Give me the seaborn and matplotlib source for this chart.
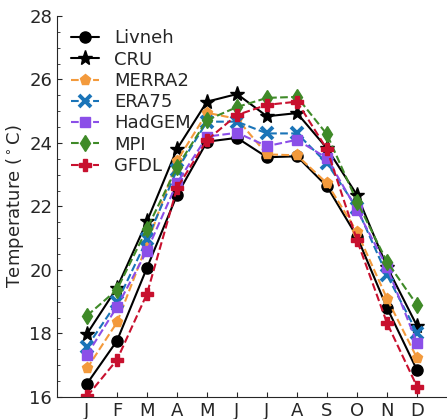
import matplotlib
matplotlib.use('Agg')
import matplotlib.pyplot as plt
import seaborn as sns
from matplotlib.ticker import MultipleLocator

# Monthly mean temperature (deg C) per dataset
months = [1, 2, 3, 4, 5, 6, 7, 8, 9, 10, 11, 12]
month_labels = ['J', 'F', 'M', 'A', 'M', 'J', 'J', 'A', 'S', 'O', 'N', 'D']

livneh = [16.42, 17.77, 20.07, 22.36, 24.04, 24.16, 23.55, 23.58, 22.63, 21.05, 18.81, 16.85]
cru = [17.99, 19.44, 21.53, 23.81, 25.30, 25.54, 24.84, 24.94, 23.83, 22.36, 20.10, 18.24]
merra2 = [16.90, 18.35, 20.80, 23.43, 24.95, 24.76, 23.64, 23.61, 22.73, 21.20, 19.10, 17.23]
era75 = [17.58, 18.98, 20.96, 23.15, 24.67, 24.67, 24.30, 24.30, 23.36, 21.95, 19.84, 18.03]
hadgem = [17.33, 18.84, 20.61, 22.74, 24.20, 24.32, 23.90, 24.10, 23.52, 21.89, 20.09, 17.70]
mpi = [18.56, 19.38, 21.30, 23.24, 24.72, 25.13, 25.42, 25.45, 24.27, 22.15, 20.26, 18.90]
gfdl = [16.02, 17.17, 19.25, 22.58, 24.09, 24.88, 25.20, 25.30, 23.80, 20.94, 18.33, 16.33]

series = [
    ('Livneh', livneh, 'black', 'o', '-', 8),
    ('CRU', cru, 'black', '*', '-', 11),
    ('MERRA2', merra2, '#f39a3c', 'p', '--', 8),
    ('ERA75', era75, '#1a74b8', 'x', '--', 9),
    ('HadGEM', hadgem, '#8b4fe8', 's', '--', 7),
    ('MPI', mpi, '#3f8a28', 'd', '--', 8),
    ('GFDL', gfdl, '#c8102e', 'P', '--', 8),
]

sns.set_style('ticks', {'xtick.direction': 'in', 'ytick.direction': 'in'})
plt.rcParams['font.family'] = ['DejaVu Sans']

fig = plt.figure(figsize=(4.47, 4.19), dpi=100)
ax = fig.add_axes([0.1275, 0.0525, 0.8725, 0.9095])

for name, vals, color, marker, ls, ms in series:
    mew = 2.8 if marker == 'x' else 1
    sns.lineplot(x=months, y=vals, ax=ax, color=color, marker=marker,
                 linestyle=ls, linewidth=1.5, markersize=ms,
                 markeredgecolor=color, markeredgewidth=mew, label=name)

ax.set_xlim(0, 13)
ax.set_ylim(16, 28)
ax.set_xticks(months)
ax.set_xticklabels(month_labels)
ax.yaxis.set_major_locator(MultipleLocator(2))
ax.yaxis.set_minor_locator(MultipleLocator(0.5))
ax.tick_params(axis='both', which='major', labelsize=13, direction='in', length=3.5)
ax.tick_params(axis='y', which='minor', direction='in', length=2)
ax.set_ylabel(r'Temperature ($^\circ$C)', fontsize=13, labelpad=2)
ax.set_xlabel('')
ax.spines['top'].set_visible(False)
ax.spines['right'].set_visible(False)

ax.legend(loc='upper left', frameon=False, fontsize=13, handlelength=1.6,
          labelspacing=0.18, borderaxespad=0.3, handletextpad=0.8,
          borderpad=0.45)

fig.savefig('out.png', dpi=100)
